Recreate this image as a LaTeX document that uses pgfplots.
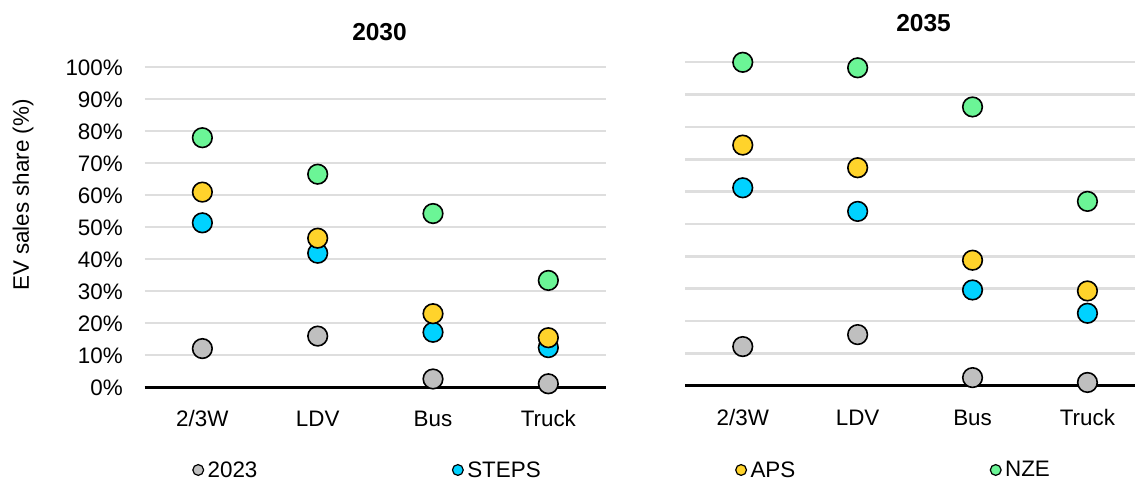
\documentclass[border=0pt]{standalone}
\usepackage{fontspec}
\setmainfont{Liberation Sans}
\usepackage{pgfplots}
\pgfplotsset{compat=1.18}
\definecolor{cgray}{HTML}{BFBFBF}
\definecolor{ccyan}{HTML}{00D2FF}
\definecolor{cyellow}{HTML}{FFD32B}
\definecolor{cgreen}{HTML}{6BF596}
\definecolor{gridc}{HTML}{DEDEDE}
\newcommand\tfont{\fontsize{22.4bp}{26bp}\selectfont}
\newcommand\titfont{\fontsize{24.5bp}{28bp}\selectfont\bfseries}
\pgfplotsset{
  evstyle/.style={
    scale only axis, clip=false,
    ymin=0, ymax=100, xmin=-0.5,
    axis line style={draw=none},
    xtick={0,1,2,3}, xticklabels={2/3W,LDV,Bus,Truck},
    ytick={10,20,...,100},
    major tick length=0pt,
    ymajorgrids, major grid style={color=gridc, line width=2.4bp},
    extra y ticks={0},
    extra y tick style={major grid style={black, line width=2.7bp}},
    tick label style={font=\tfont},
    xticklabel style={anchor=base, inner sep=0pt, yshift=-39.2bp},
    yticklabel style={anchor=east, inner sep=0pt, xshift=-21.7bp},
  },
  pt/.style={only marks, mark=*, mark size=9.8bp, line width=1.6bp, draw=black, fill=#1},
}
\pgfplotstableread{
x t2023 steps aps nze
0 12.1 51.4 61.0 78.0
1 16.0 41.9 46.6 66.6
2 2.6 17.2 23.0 54.3
3 1.1 12.4 15.5 33.4
}\leftdata
\pgfplotstableread{
x t2023 steps aps nze
0 12.1 61.2 74.4 100.0
1 15.8 53.9 67.4 98.3
2 2.5 29.6 38.8 86.2
3 1.0 22.4 29.3 57.0
}\rightdata
\begin{document}
\begin{tikzpicture}
\useasboundingbox (0,0) rectangle (1135bp,481bp);
\begin{axis}[evstyle,
  at={(144.7bp,93.7bp)}, anchor=south west,
  width=461.3bp, height=320bp, xmax=3.5,
  yticklabels={10\%,20\%,30\%,40\%,50\%,60\%,70\%,80\%,90\%,100\%},
  extra y tick labels={0\%},
  legend columns=4,
  legend image code/.code={\draw[#1] plot coordinates {(6bp,0bp)};},
  legend image post style={mark size=5.4bp, line width=1.2bp},
  legend style={draw=none, fill=none, inner sep=0pt, font=\tfont,
    nodes={inner sep=0pt},
    at={(axis description cs:0.1039,-0.2584)}, anchor=west,
    /tikz/every odd column/.append style={column sep=4bp},
    /tikz/every even column/.append style={column sep=195bp}},
]
\addplot[pt=cgray] table[x=x,y=t2023] {\leftdata};
\addlegendentry{2023}
\addplot[pt=ccyan] table[x=x,y=steps] {\leftdata};
\addlegendentry{STEPS}
\addplot[pt=cyellow] table[x=x,y=aps] {\leftdata};
\addlegendentry{APS}
\addplot[pt=cgreen] table[x=x,y=nze] {\leftdata};
\addlegendentry{NZE}
\end{axis}
\begin{axis}[evstyle,
  at={(685.3bp,95.3bp)}, anchor=south west,
  width=449.7bp, height=323.4bp, xmax=3.414,
  yticklabels={}, extra y tick labels={},
  xticklabel style={yshift=-0.6bp},
]
\addplot[pt=cgray] table[x=x,y=t2023] {\rightdata};
\addplot[pt=ccyan] table[x=x,y=steps] {\rightdata};
\addplot[pt=cyellow] table[x=x,y=aps] {\rightdata};
\addplot[pt=cgreen] table[x=x,y=nze] {\rightdata};
\end{axis}
\node[font=\titfont] at (379.5bp,449bp) {2030};
\node[font=\titfont] at (923.6bp,457.7bp) {2035};
\node[font=\tfont, rotate=90] at (23bp,286bp) {EV sales share (\%)};
\end{tikzpicture}
\end{document}
